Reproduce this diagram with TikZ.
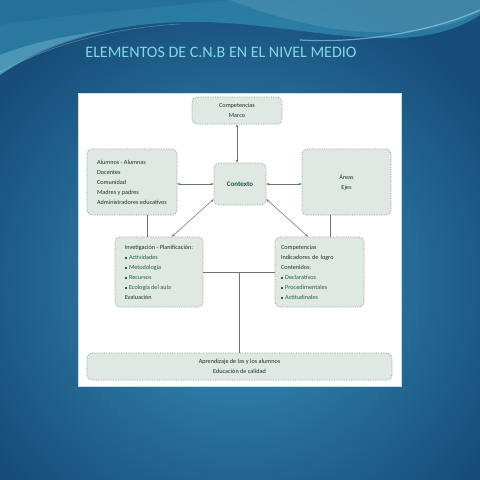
\documentclass[tikz,border=0pt]{standalone}
\usepackage{fontspec}
\setmainfont{Carlito}
\usetikzlibrary{arrows.meta,calc}
\definecolor{bgdark}{HTML}{174C78}
\definecolor{bglight}{HTML}{3A93BF}
\definecolor{wave}{HTML}{3FAED0}
\definecolor{titlec}{HTML}{80D8E8}
\definecolor{boxfill}{HTML}{DFE8E3}
\definecolor{boxline}{HTML}{8C9A93}
\definecolor{txt}{HTML}{1E2F27}
\definecolor{grn}{HTML}{22603F}
\definecolor{ctxc}{HTML}{1A5A3A}
\definecolor{lineg}{HTML}{6E7472}
\newcommand{\bul}{{\color{grn}\rule[0.6pt]{1.7pt}{1.7pt}}\hspace{2.5pt}}
\tikzset{
  box/.style={draw=boxline, densely dotted, line width=0.7pt, rounded corners=5pt,
    fill=boxfill, inner sep=0pt, font=\fontsize{6.2}{10}\selectfont, text=txt, align=center},
  conn/.style={draw=lineg, line width=0.55pt, solid},
  arr/.style={conn, {Stealth[length=3pt,width=2.6pt]}-{Stealth[length=3pt,width=2.6pt]}},
}
\begin{document}
\begin{tikzpicture}[x=1pt,y=-1pt]
\useasboundingbox (0,0) rectangle (480,480);
% background
\shade[inner color=bglight, outer color=bgdark] (-60,-20) rectangle (540,580);
% top waves
\fill[wave, opacity=0.45] (0,0) -- (0,75) .. controls (40,45) and (100,25) .. (180,22) .. controls (260,20) and (330,40) .. (400,38) .. controls (440,36) and (465,25) .. (480,15) -- (480,0) -- cycle;
\fill[wave!60!white, opacity=0.35] (0,75) .. controls (30,55) and (60,42) .. (110,30) .. controls (60,36) and (25,45) .. (0,55) -- cycle;
\fill[bgdark, opacity=0.18] (0,0) -- (0,25) .. controls (60,15) and (150,8) .. (230,0) -- cycle;
\fill[white, opacity=0.10] (230,0) .. controls (280,20) and (340,35) .. (400,32) .. controls (440,30) and (465,20) .. (480,12) -- (480,0) -- cycle;
\draw[wave!50!white, opacity=0.6, line width=1.2pt] (300,40) .. controls (370,44) and (440,28) .. (480,10);
\draw[wave!50!white, opacity=0.35, line width=0.7pt] (0,72) .. controls (50,45) and (110,28) .. (180,24);
% title
\node[font=\fontsize{16}{18}\selectfont, text=titlec] (title) at (221,52) {ELEMENTOS DE C.N.B EN EL NIVEL MEDIO};
% panel
\fill[white] (78,93) rectangle (401,386);
\draw[white!70!bglight, line width=0.8pt] (78,93) rectangle (401,386);
% boxes
\node[box, minimum width=90pt, minimum height=27pt] (marco) at (237,110.5) {Competencias\\Marco};
\node[box, minimum width=90pt, minimum height=66pt, align=left] (left) at (132,182) {Alumnos - Alumnas\\Docentes\\Comunidad\\Madres y padres\\Administradores educativos};
\node[box, minimum width=52pt, minimum height=42pt, font=\fontsize{7}{9}\selectfont\bfseries, text=ctxc] (ctx) at (240,184) {Contexto};
\node[box, minimum width=89pt, minimum height=66pt] (areas) at (346.5,182) {Áreas\\Ejes};
\node[box, minimum width=88pt, minimum height=70pt, align=left] (inv) at (159,272) {Invetigación - Planificación:\\\bul{\color{grn}Actividades}\\\bul{\color{grn}Metodología}\\\bul{\color{grn}Recursos}\\\bul{\color{grn}Ecología del aula}\\Evaluación};
\node[box, minimum width=89pt, minimum height=70pt, text width=77pt, align=left] (comp) at (319.5,272) {Competencias\\Indicadores de logro\\Contenidos:\\\bul{\color{grn}Declarativos}\\\bul{\color{grn}Procedimentales}\\\bul{\color{grn}Actitudinales}};
\node[box, minimum width=305pt, minimum height=27pt] (bottom) at (239.5,366.5) {Aprendizaje de las y los alumnos\\Educación de calidad};
% connectors
\coordinate (lx) at (147,0);
\coordinate (rx) at (330,0);
\coordinate (mx) at (237,0);
\draw[arr] (marco.south -| mx) -- (ctx.north -| mx);
\draw[arr] (left.east |- ctx.west) -- (ctx.west);
\draw[arr] (ctx.east) -- (ctx.east -| areas.west);
\draw[arr] (ctx.210) -- (inv.70);
\draw[arr] (ctx.330) -- (comp.108);
\draw[conn] (left.south -| lx) -- (inv.north -| lx);
\draw[conn] (areas.south -| rx) -- (comp.north -| rx);
\draw[conn] (inv.east) -- (comp.west);
\coordinate (mid) at ($(inv.east)!0.5!(comp.west)$);
\draw[conn] (mid) -- (mid |- bottom.north);
\end{tikzpicture}
\end{document}
